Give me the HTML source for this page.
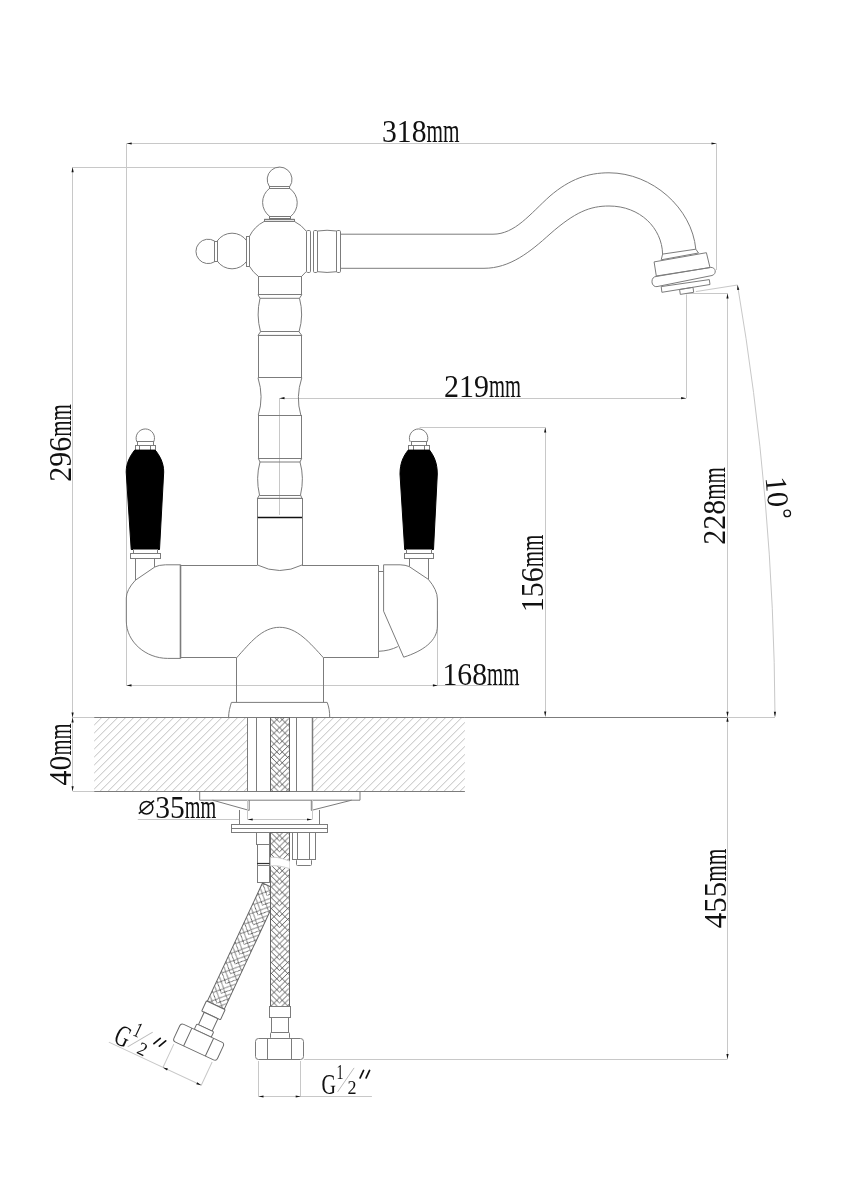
<!DOCTYPE html>
<html><head><meta charset="utf-8"><style>
html,body{margin:0;padding:0;background:#fff;}
svg{display:block;will-change:transform;}
text{stroke:none;}
</style></head><body>
<svg width="849" height="1200" viewBox="0 0 849 1200">
<rect width="849" height="1200" fill="#fff"/>
<line x1="126.7" y1="143.5" x2="716.5" y2="143.5" stroke="#c8c8c8" stroke-width="1.0"/><path d="M126.70,143.50 L131.70,142.40 L131.70,144.60 Z" fill="#111"/><path d="M716.50,143.50 L711.50,144.60 L711.50,142.40 Z" fill="#111"/><line x1="126.5" y1="143.5" x2="126.5" y2="685.5" stroke="#c8c8c8" stroke-width="1.0"/><line x1="716.5" y1="143.5" x2="716.5" y2="270" stroke="#c8c8c8" stroke-width="1.0"/><line x1="72.6" y1="167.5" x2="279.7" y2="167.5" stroke="#c8c8c8" stroke-width="1.0"/><line x1="72.5" y1="167.2" x2="72.5" y2="791.3" stroke="#c8c8c8" stroke-width="1.0"/><path d="M72.60,167.20 L73.70,172.20 L71.50,172.20 Z" fill="#111"/><path d="M72.60,717.40 L71.50,712.40 L73.70,712.40 Z" fill="#111"/><path d="M72.60,717.40 L73.70,722.40 L71.50,722.40 Z" fill="#111"/><path d="M72.60,791.30 L71.50,786.30 L73.70,786.30 Z" fill="#111"/><line x1="279.5" y1="398.5" x2="686.1" y2="398.5" stroke="#c8c8c8" stroke-width="1.0"/><line x1="279.5" y1="398.2" x2="279.5" y2="515" stroke="#c8c8c8" stroke-width="1.0"/><line x1="686.5" y1="294.4" x2="686.5" y2="398.2" stroke="#c8c8c8" stroke-width="1.0"/><path d="M279.50,398.20 L284.50,397.10 L284.50,399.30 Z" fill="#111"/><path d="M686.10,398.20 L681.10,399.30 L681.10,397.10 Z" fill="#111"/><line x1="419.6" y1="427.5" x2="545.2" y2="427.5" stroke="#c8c8c8" stroke-width="1.0"/><line x1="545.5" y1="427.4" x2="545.5" y2="716.6" stroke="#c8c8c8" stroke-width="1.0"/><path d="M545.20,427.40 L546.30,432.40 L544.10,432.40 Z" fill="#111"/><path d="M545.20,716.60 L544.10,711.60 L546.30,711.60 Z" fill="#111"/><line x1="126.5" y1="685.5" x2="519" y2="685.5" stroke="#c8c8c8" stroke-width="1.0"/><line x1="437.5" y1="611" x2="437.5" y2="685.4" stroke="#c8c8c8" stroke-width="1.0"/><path d="M126.50,685.40 L131.50,684.30 L131.50,686.50 Z" fill="#111"/><path d="M437.90,685.40 L432.90,686.50 L432.90,684.30 Z" fill="#111"/><line x1="686.6" y1="293.5" x2="727.5" y2="293.5" stroke="#c8c8c8" stroke-width="1.0"/><line x1="727.5" y1="293.4" x2="727.5" y2="1059" stroke="#c8c8c8" stroke-width="1.0"/><path d="M727.50,293.40 L728.60,298.40 L726.40,298.40 Z" fill="#111"/><path d="M727.50,716.80 L726.40,711.80 L728.60,711.80 Z" fill="#111"/><path d="M727.50,716.80 L728.60,721.80 L726.40,721.80 Z" fill="#111"/><path d="M727.50,1059.00 L726.40,1054.00 L728.60,1054.00 Z" fill="#111"/><line x1="695.8" y1="291.6" x2="737.5" y2="285.0" stroke="#c8c8c8" stroke-width="1.0"/><path d="M737.5,285 A2642,2642 0 0 1 775,716.8" stroke="#c8c8c8" stroke-width="1.0" fill="none" /><path d="M737.50,285.00 L739.33,289.78 L737.15,290.11 Z" fill="#111"/><path d="M775.00,716.80 L773.80,711.82 L776.00,711.78 Z" fill="#111"/><line x1="464.9" y1="717.5" x2="727.5" y2="717.5" stroke="#7c7c7c" stroke-width="1.0"/><line x1="727.5" y1="717.5" x2="775" y2="717.5" stroke="#c8c8c8" stroke-width="1.0"/><line x1="303.9" y1="1059.5" x2="727.5" y2="1059.5" stroke="#c8c8c8" stroke-width="1.0"/><path d="M269.4,186.5 A12.4,12.4 0 1 1 289.8,186.5" stroke="#7c7c7c" stroke-width="1.0" fill="none" /><rect x="269.5" y="186.5" width="20.0" height="2.0" rx="0" stroke="#7c7c7c" stroke-width="1.0" fill="none"/><path d="M269.4,188.5 A17.5,17.5 0 0 0 269.8,216.5" stroke="#7c7c7c" stroke-width="1.0" fill="none" /><path d="M289.8,188.5 A17.5,17.5 0 0 1 290.6,216.5" stroke="#7c7c7c" stroke-width="1.0" fill="none" /><rect x="269.5" y="216.5" width="21.0" height="2.0" rx="0" stroke="#777" stroke-width="1.0" fill="none"/><rect x="264.5" y="219.5" width="30.0" height="2.0" rx="0" stroke="#7c7c7c" stroke-width="1.0" fill="none"/><line x1="264.1" y1="219.5" x2="294.5" y2="219.5" stroke="#7c7c7c" stroke-width="1.4"/><path d="M264.1,221.5 A33,33 0 0 0 249.4,236.5" stroke="#7c7c7c" stroke-width="1.0" fill="none" /><path d="M294.5,221.5 A33,33 0 0 1 306.3,231.2" stroke="#7c7c7c" stroke-width="1.0" fill="none" /><path d="M249.4,266.2 A33,33 0 0 0 258.4,276.4" stroke="#7c7c7c" stroke-width="1.0" fill="none" /><line x1="306.3" y1="271.5" x2="301.6" y2="276.4" stroke="#7c7c7c" stroke-width="1.0"/><line x1="258.0" y1="276.5" x2="301.8" y2="276.5" stroke="#7c7c7c" stroke-width="1.2"/><rect x="246.5" y="236.5" width="3.0" height="30.0" rx="0" stroke="#7c7c7c" stroke-width="1.0" fill="none"/><path d="M246.9,241.0 A18,18 0 0 0 217.2,241.0 M217.2,261.0 A18,18 0 0 0 246.9,261.0" stroke="#7c7c7c" stroke-width="1.0" fill="none" /><rect x="214.5" y="241.5" width="3.0" height="20.0" rx="0" stroke="#7c7c7c" stroke-width="1.0" fill="none"/><path d="M214.7,241.1 A12.2,12.2 0 1 0 214.7,261.7" stroke="#7c7c7c" stroke-width="1.0" fill="none" /><rect x="306.5" y="230.5" width="4.0" height="42.0" rx="1.2" stroke="#7c7c7c" stroke-width="1.0" fill="none"/><rect x="313.5" y="230.5" width="4.0" height="42.0" rx="1.2" stroke="#7c7c7c" stroke-width="1.0" fill="none"/><path d="M317.6,231.0 Q327,229.5 336.6,231.0 M317.6,271.7 Q327,273.2 336.6,271.7" stroke="#7c7c7c" stroke-width="1.0" fill="none" /><line x1="317.5" y1="231" x2="317.5" y2="271.7" stroke="#7c7c7c" stroke-width="1.0"/><line x1="336.5" y1="231" x2="336.5" y2="271.7" stroke="#7c7c7c" stroke-width="1.0"/><rect x="336.5" y="230.5" width="4.0" height="42.0" rx="1.2" stroke="#7c7c7c" stroke-width="1.0" fill="none"/><path d="M340.2,234.2 L493,234.2 C515,234.2 530,214 550,196 C570,179 588,172.8 609,172.8 C652,172.8 692,208 695.8,249.2" stroke="#7c7c7c" stroke-width="1.0" fill="none" /><path d="M340.2,268.3 L484,268.3 C510,268.3 530,252 550,234 C575,212 590,206 609,206 C640,206 662,228 662.6,254.1" stroke="#7c7c7c" stroke-width="1.0" fill="none" /><path d="M662.6,254.1 L695.8,249.2 L698.5,253 L661.2,259.8 Z" stroke="#7c7c7c" stroke-width="1.0" fill="none" /><path d="M654.1,261.9 L706.4,252.7 L710,267.6 L656.3,276 Z" stroke="#7c7c7c" stroke-width="1.0" fill="none" /><path d="M656,276.5 L710.5,267.4 C716,267 717,274 712,275.5 L657,286.6 C651,287.5 650,277 656,276.5 Z" stroke="#7c7c7c" stroke-width="1.0" fill="none" /><path d="M661.2,286.6 L709.3,279.6 L710,284.5 L661.9,292.3 Z" stroke="#7c7c7c" stroke-width="1.0" fill="none" /><path d="M679.6,289.5 L693,287.4 L693.7,292.3 L680.3,294.4 Z" stroke="#7c7c7c" stroke-width="1.0" fill="none" /><rect x="258.5" y="276.5" width="43.0" height="18.0" rx="0" stroke="#7c7c7c" stroke-width="1.0" fill="none"/><path d="M258,294.7 L260,298.3 L299.5,298.3 L301.8,294.7" stroke="#7c7c7c" stroke-width="1.0" fill="none" /><path d="M260,298.3 Q256,315 260.5,331.8 M299.5,298.3 Q304,315 299,331.8" stroke="#7c7c7c" stroke-width="1.0" fill="none" /><line x1="260.5" y1="331.5" x2="299" y2="331.5" stroke="#7c7c7c" stroke-width="1.0"/><path d="M260.5,331.8 L258,335.4 L301.8,335.4 L299,331.8" stroke="#7c7c7c" stroke-width="1.0" fill="none" /><rect x="258.5" y="335.5" width="43.0" height="42.0" rx="0" stroke="#7c7c7c" stroke-width="1.0" fill="none"/><path d="M258,377.8 Q264,397 258.3,415 M301.8,377.8 Q295.5,397 300.8,415" stroke="#7c7c7c" stroke-width="1.0" fill="none" /><rect x="258.5" y="415.5" width="43.0" height="43.0" rx="0" stroke="#7c7c7c" stroke-width="1.0" fill="none"/><path d="M258.3,458.3 L260,462 L300,462 L301.7,458.3" stroke="#7c7c7c" stroke-width="1.0" fill="none" /><path d="M260,462 Q255.5,478 259.5,495 M300,462 Q304.5,478 300.5,495" stroke="#7c7c7c" stroke-width="1.0" fill="none" /><line x1="259.5" y1="495.5" x2="300.5" y2="495.5" stroke="#7c7c7c" stroke-width="1.0"/><path d="M259.5,495 L257.5,498.3 L302,498.3 L300.5,495" stroke="#7c7c7c" stroke-width="1.0" fill="none" /><rect x="257.5" y="498.5" width="45.0" height="19.0" rx="0" stroke="#7c7c7c" stroke-width="1.0" fill="none"/><line x1="257.5" y1="517.5" x2="302" y2="517.5" stroke="#111" stroke-width="1.6"/><line x1="257.5" y1="517.5" x2="257.5" y2="565" stroke="#7c7c7c" stroke-width="1.0"/><line x1="302.5" y1="517.5" x2="302.5" y2="565" stroke="#7c7c7c" stroke-width="1.0"/><path d="M257.5,565 Q279.7,576 302,565" stroke="#7c7c7c" stroke-width="1.0" fill="none" /><path d="M136.9,441.9 A9.2,9.2 0 1 1 153.7,441.9" stroke="#7c7c7c" stroke-width="1.0" fill="none" /><rect x="137.5" y="441.5" width="16.0" height="4.0" rx="0" stroke="#7c7c7c" stroke-width="1.0" fill="none"/><rect x="135.5" y="445.5" width="20.0" height="5.0" rx="0" stroke="#7c7c7c" stroke-width="1.0" fill="none"/><line x1="139.5" y1="445.4" x2="139.5" y2="450.1" stroke="#7c7c7c" stroke-width="1.0"/><line x1="150.5" y1="445.4" x2="150.5" y2="450.1" stroke="#7c7c7c" stroke-width="1.0"/><path d="M134.7,450.1 L155.2,450.1 C160,456 163.7,463 163.7,472 L159.5,549.5 L131.2,549.5 L126.2,472 C126.2,463 130,456 134.7,450.1 Z" stroke="#000" stroke-width="1.0" fill="#000" /><rect x="133.5" y="549.5" width="24.0" height="4.0" rx="0" stroke="#7c7c7c" stroke-width="1.0" fill="none"/><rect x="130.5" y="553.5" width="30.0" height="5.0" rx="0" stroke="#7c7c7c" stroke-width="1.0" fill="none"/><line x1="135.5" y1="558.4" x2="135.5" y2="580.2" stroke="#7c7c7c" stroke-width="1.0"/><line x1="154.5" y1="558.4" x2="154.5" y2="567" stroke="#7c7c7c" stroke-width="1.0"/><path d="M410.2,441.9 A9.2,9.2 0 1 1 427.0,441.9" stroke="#7c7c7c" stroke-width="1.0" fill="none" /><rect x="411.5" y="441.5" width="15.0" height="4.0" rx="0" stroke="#7c7c7c" stroke-width="1.0" fill="none"/><rect x="408.5" y="445.5" width="21.0" height="5.0" rx="0" stroke="#7c7c7c" stroke-width="1.0" fill="none"/><line x1="413.5" y1="445.4" x2="413.5" y2="450.1" stroke="#7c7c7c" stroke-width="1.0"/><line x1="424.5" y1="445.4" x2="424.5" y2="450.1" stroke="#7c7c7c" stroke-width="1.0"/><path d="M408.2,450.1 L429.5,450.1 C434,456 437.3,463 437.3,474 L433.5,549.5 L404.7,549.5 L400,474 C400,463 403.5,456 408.2,450.1 Z" stroke="#000" stroke-width="1.0" fill="#000" /><rect x="406.5" y="549.5" width="25.0" height="4.0" rx="0" stroke="#7c7c7c" stroke-width="1.0" fill="none"/><rect x="404.5" y="553.5" width="29.0" height="5.0" rx="0" stroke="#7c7c7c" stroke-width="1.0" fill="none"/><line x1="409.5" y1="558.4" x2="409.5" y2="566.5" stroke="#7c7c7c" stroke-width="1.0"/><line x1="428.5" y1="558.4" x2="428.5" y2="579.4" stroke="#7c7c7c" stroke-width="1.0"/><path d="M180.7,564.8 L165.4,564.8 Q158.5,565 154.8,567 L135.4,580.2 Q126.3,590 126.3,598 L126.3,621 C126.3,642 146,658.4 167.7,658.4 L180.7,658.4" stroke="#7c7c7c" stroke-width="1.0" fill="none" /><line x1="180.5" y1="564.8" x2="180.5" y2="658.4" stroke="#7c7c7c" stroke-width="1.6"/><line x1="180.7" y1="565.5" x2="257.5" y2="565.5" stroke="#7c7c7c" stroke-width="1.0"/><line x1="302" y1="565.5" x2="378.5" y2="565.5" stroke="#7c7c7c" stroke-width="1.0"/><line x1="378.5" y1="565.2" x2="378.5" y2="657.9" stroke="#7c7c7c" stroke-width="1.0"/><line x1="180.7" y1="657.5" x2="236.5" y2="657.5" stroke="#7c7c7c" stroke-width="1.0"/><line x1="323.6" y1="657.5" x2="378.5" y2="657.5" stroke="#7c7c7c" stroke-width="1.0"/><path d="M236.5,657.9 C250,643 262,627.3 279.6,627.3 C297,627.3 310,643 323.6,657.9" stroke="#7c7c7c" stroke-width="1.0" fill="none" /><line x1="378.5" y1="571.5" x2="383.6" y2="571.5" stroke="#7c7c7c" stroke-width="1.0"/><path d="M383.6,564.8 L383.6,611.2 L403.7,657.2" stroke="#7c7c7c" stroke-width="1.0" fill="none" /><path d="M383.6,564.8 L400.1,564.8 Q405.5,565 409.1,566.5 L428.4,579.4 Q437.4,590 437.4,599 L437.4,626 C437.4,641 423,651 403.7,657.2" stroke="#7c7c7c" stroke-width="1.0" fill="none" /><path d="M378.5,651.3 C386,651 392,649.5 397.8,646.6" stroke="#7c7c7c" stroke-width="1.0" fill="none" /><line x1="236.5" y1="657.9" x2="236.5" y2="702.4" stroke="#7c7c7c" stroke-width="1.0"/><line x1="323.5" y1="657.9" x2="323.5" y2="702.4" stroke="#7c7c7c" stroke-width="1.0"/><path d="M231.4,702.4 L327.2,702.4 C329,707 329.7,712 329.7,717.2 M231.4,702.4 C230,707 228.6,712 228.6,717.2" stroke="#7c7c7c" stroke-width="1.0" fill="none" /><defs><clipPath id="hl"><rect x="94.2" y="717.2" width="152.9" height="74.1"/></clipPath><clipPath id="hr"><rect x="312.4" y="717.2" width="152.5" height="74.1"/></clipPath><pattern id="braid" patternUnits="userSpaceOnUse" x="270" y="0" width="19" height="10.8"><path d="M0,-27.00 L9.50,-17.50 M19.00,-27.00 L9.50,-17.50 M0,-21.60 L9.50,-12.10 M19.00,-21.60 L9.50,-12.10 M0,-16.20 L9.50,-6.70 M19.00,-16.20 L9.50,-6.70 M0,-10.80 L9.50,-1.30 M19.00,-10.80 L9.50,-1.30 M0,-5.40 L9.50,4.10 M19.00,-5.40 L9.50,4.10 M0,0.00 L9.50,9.50 M19.00,0.00 L9.50,9.50 M0,5.40 L9.50,14.90 M19.00,5.40 L9.50,14.90 M0,10.80 L9.50,20.30 M19.00,10.80 L9.50,20.30 M0,2.70 L9.50,-6.80 M19.00,2.70 L9.50,-6.80 M0,13.50 L9.50,4.00 M19.00,13.50 L9.50,4.00 M0,24.30 L9.50,14.80 M19.00,24.30 L9.50,14.80 M0,35.10 L9.50,25.60 M19.00,35.10 L9.50,25.60" stroke="#505050" stroke-width="0.9" fill="none"/></pattern><pattern id="braidA" patternUnits="userSpaceOnUse" x="0" y="0" width="18.7" height="10.8"><path d="M0,-27.00 L9.35,-17.65 M18.70,-27.00 L9.35,-17.65 M0,-21.60 L9.35,-12.25 M18.70,-21.60 L9.35,-12.25 M0,-16.20 L9.35,-6.85 M18.70,-16.20 L9.35,-6.85 M0,-10.80 L9.35,-1.45 M18.70,-10.80 L9.35,-1.45 M0,-5.40 L9.35,3.95 M18.70,-5.40 L9.35,3.95 M0,0.00 L9.35,9.35 M18.70,0.00 L9.35,9.35 M0,5.40 L9.35,14.75 M18.70,5.40 L9.35,14.75 M0,10.80 L9.35,20.15 M18.70,10.80 L9.35,20.15 M0,2.70 L9.35,-6.65 M18.70,2.70 L9.35,-6.65 M0,13.50 L9.35,4.15 M18.70,13.50 L9.35,4.15 M0,24.30 L9.35,14.95 M18.70,24.30 L9.35,14.95 M0,35.10 L9.35,25.75 M18.70,35.10 L9.35,25.75" stroke="#505050" stroke-width="0.9" fill="none"/></pattern></defs><g clip-path="url(#hl)"><path d="M-100.0,791.3 L-25.9,717.2 M-92.0,791.3 L-17.9,717.2 M-84.0,791.3 L-9.9,717.2 M-76.0,791.3 L-1.9,717.2 M-68.0,791.3 L6.1,717.2 M-60.0,791.3 L14.1,717.2 M-52.0,791.3 L22.1,717.2 M-44.0,791.3 L30.1,717.2 M-36.0,791.3 L38.1,717.2 M-28.0,791.3 L46.1,717.2 M-20.0,791.3 L54.1,717.2 M-12.0,791.3 L62.1,717.2 M-4.0,791.3 L70.1,717.2 M4.0,791.3 L78.1,717.2 M12.0,791.3 L86.1,717.2 M20.0,791.3 L94.1,717.2 M28.0,791.3 L102.1,717.2 M36.0,791.3 L110.1,717.2 M44.0,791.3 L118.1,717.2 M52.0,791.3 L126.1,717.2 M60.0,791.3 L134.1,717.2 M68.0,791.3 L142.1,717.2 M76.0,791.3 L150.1,717.2 M84.0,791.3 L158.1,717.2 M92.0,791.3 L166.1,717.2 M100.0,791.3 L174.1,717.2 M108.0,791.3 L182.1,717.2 M116.0,791.3 L190.1,717.2 M124.0,791.3 L198.1,717.2 M132.0,791.3 L206.1,717.2 M140.0,791.3 L214.1,717.2 M148.0,791.3 L222.1,717.2 M156.0,791.3 L230.1,717.2 M164.0,791.3 L238.1,717.2 M172.0,791.3 L246.1,717.2 M180.0,791.3 L254.1,717.2 M188.0,791.3 L262.1,717.2 M196.0,791.3 L270.1,717.2 M204.0,791.3 L278.1,717.2 M212.0,791.3 L286.1,717.2 M220.0,791.3 L294.1,717.2 M228.0,791.3 L302.1,717.2 M236.0,791.3 L310.1,717.2 M244.0,791.3 L318.1,717.2 M252.0,791.3 L326.1,717.2 M260.0,791.3 L334.1,717.2 M268.0,791.3 L342.1,717.2 M276.0,791.3 L350.1,717.2 M284.0,791.3 L358.1,717.2 M292.0,791.3 L366.1,717.2 M300.0,791.3 L374.1,717.2 M308.0,791.3 L382.1,717.2 M316.0,791.3 L390.1,717.2 M324.0,791.3 L398.1,717.2 M332.0,791.3 L406.1,717.2 M340.0,791.3 L414.1,717.2 M348.0,791.3 L422.1,717.2 M356.0,791.3 L430.1,717.2 M364.0,791.3 L438.1,717.2 M372.0,791.3 L446.1,717.2 M380.0,791.3 L454.1,717.2 M388.0,791.3 L462.1,717.2 M396.0,791.3 L470.1,717.2 M404.0,791.3 L478.1,717.2 M412.0,791.3 L486.1,717.2 M420.0,791.3 L494.1,717.2 M428.0,791.3 L502.1,717.2 M436.0,791.3 L510.1,717.2 M444.0,791.3 L518.1,717.2 M452.0,791.3 L526.1,717.2 M460.0,791.3 L534.1,717.2 M468.0,791.3 L542.1,717.2 M476.0,791.3 L550.1,717.2 M484.0,791.3 L558.1,717.2 M492.0,791.3 L566.1,717.2 M500.0,791.3 L574.1,717.2 M508.0,791.3 L582.1,717.2 M516.0,791.3 L590.1,717.2 M524.0,791.3 L598.1,717.2 M532.0,791.3 L606.1,717.2 M540.0,791.3 L614.1,717.2 M548.0,791.3 L622.1,717.2 M556.0,791.3 L630.1,717.2 M564.0,791.3 L638.1,717.2 M572.0,791.3 L646.1,717.2 M580.0,791.3 L654.1,717.2 M588.0,791.3 L662.1,717.2 M596.0,791.3 L670.1,717.2 M604.0,791.3 L678.1,717.2 M612.0,791.3 L686.1,717.2 M620.0,791.3 L694.1,717.2 M628.0,791.3 L702.1,717.2 M636.0,791.3 L710.1,717.2 M644.0,791.3 L718.1,717.2 M652.0,791.3 L726.1,717.2 M660.0,791.3 L734.1,717.2 M668.0,791.3 L742.1,717.2 M676.0,791.3 L750.1,717.2 M684.0,791.3 L758.1,717.2 M692.0,791.3 L766.1,717.2" stroke="#b8b8b8" stroke-width="0.9" fill="none"/></g><g clip-path="url(#hr)"><path d="M-100.0,791.3 L-25.9,717.2 M-92.0,791.3 L-17.9,717.2 M-84.0,791.3 L-9.9,717.2 M-76.0,791.3 L-1.9,717.2 M-68.0,791.3 L6.1,717.2 M-60.0,791.3 L14.1,717.2 M-52.0,791.3 L22.1,717.2 M-44.0,791.3 L30.1,717.2 M-36.0,791.3 L38.1,717.2 M-28.0,791.3 L46.1,717.2 M-20.0,791.3 L54.1,717.2 M-12.0,791.3 L62.1,717.2 M-4.0,791.3 L70.1,717.2 M4.0,791.3 L78.1,717.2 M12.0,791.3 L86.1,717.2 M20.0,791.3 L94.1,717.2 M28.0,791.3 L102.1,717.2 M36.0,791.3 L110.1,717.2 M44.0,791.3 L118.1,717.2 M52.0,791.3 L126.1,717.2 M60.0,791.3 L134.1,717.2 M68.0,791.3 L142.1,717.2 M76.0,791.3 L150.1,717.2 M84.0,791.3 L158.1,717.2 M92.0,791.3 L166.1,717.2 M100.0,791.3 L174.1,717.2 M108.0,791.3 L182.1,717.2 M116.0,791.3 L190.1,717.2 M124.0,791.3 L198.1,717.2 M132.0,791.3 L206.1,717.2 M140.0,791.3 L214.1,717.2 M148.0,791.3 L222.1,717.2 M156.0,791.3 L230.1,717.2 M164.0,791.3 L238.1,717.2 M172.0,791.3 L246.1,717.2 M180.0,791.3 L254.1,717.2 M188.0,791.3 L262.1,717.2 M196.0,791.3 L270.1,717.2 M204.0,791.3 L278.1,717.2 M212.0,791.3 L286.1,717.2 M220.0,791.3 L294.1,717.2 M228.0,791.3 L302.1,717.2 M236.0,791.3 L310.1,717.2 M244.0,791.3 L318.1,717.2 M252.0,791.3 L326.1,717.2 M260.0,791.3 L334.1,717.2 M268.0,791.3 L342.1,717.2 M276.0,791.3 L350.1,717.2 M284.0,791.3 L358.1,717.2 M292.0,791.3 L366.1,717.2 M300.0,791.3 L374.1,717.2 M308.0,791.3 L382.1,717.2 M316.0,791.3 L390.1,717.2 M324.0,791.3 L398.1,717.2 M332.0,791.3 L406.1,717.2 M340.0,791.3 L414.1,717.2 M348.0,791.3 L422.1,717.2 M356.0,791.3 L430.1,717.2 M364.0,791.3 L438.1,717.2 M372.0,791.3 L446.1,717.2 M380.0,791.3 L454.1,717.2 M388.0,791.3 L462.1,717.2 M396.0,791.3 L470.1,717.2 M404.0,791.3 L478.1,717.2 M412.0,791.3 L486.1,717.2 M420.0,791.3 L494.1,717.2 M428.0,791.3 L502.1,717.2 M436.0,791.3 L510.1,717.2 M444.0,791.3 L518.1,717.2 M452.0,791.3 L526.1,717.2 M460.0,791.3 L534.1,717.2 M468.0,791.3 L542.1,717.2 M476.0,791.3 L550.1,717.2 M484.0,791.3 L558.1,717.2 M492.0,791.3 L566.1,717.2 M500.0,791.3 L574.1,717.2 M508.0,791.3 L582.1,717.2 M516.0,791.3 L590.1,717.2 M524.0,791.3 L598.1,717.2 M532.0,791.3 L606.1,717.2 M540.0,791.3 L614.1,717.2 M548.0,791.3 L622.1,717.2 M556.0,791.3 L630.1,717.2 M564.0,791.3 L638.1,717.2 M572.0,791.3 L646.1,717.2 M580.0,791.3 L654.1,717.2 M588.0,791.3 L662.1,717.2 M596.0,791.3 L670.1,717.2 M604.0,791.3 L678.1,717.2 M612.0,791.3 L686.1,717.2 M620.0,791.3 L694.1,717.2 M628.0,791.3 L702.1,717.2 M636.0,791.3 L710.1,717.2 M644.0,791.3 L718.1,717.2 M652.0,791.3 L726.1,717.2 M660.0,791.3 L734.1,717.2 M668.0,791.3 L742.1,717.2 M676.0,791.3 L750.1,717.2 M684.0,791.3 L758.1,717.2 M692.0,791.3 L766.1,717.2" stroke="#b8b8b8" stroke-width="0.9" fill="none"/></g><line x1="73" y1="717.5" x2="94.2" y2="717.5" stroke="#c8c8c8" stroke-width="1.0"/><line x1="94.2" y1="717.5" x2="464.9" y2="717.5" stroke="#7c7c7c" stroke-width="1.0"/><line x1="73" y1="791.5" x2="94.2" y2="791.5" stroke="#c8c8c8" stroke-width="1.0"/><line x1="94.2" y1="791.5" x2="464.9" y2="791.5" stroke="#7c7c7c" stroke-width="1.0"/><line x1="247.5" y1="717.2" x2="247.5" y2="791.3" stroke="#7c7c7c" stroke-width="1.0"/><line x1="256.5" y1="717.2" x2="256.5" y2="791.3" stroke="#7c7c7c" stroke-width="1.0"/><line x1="296.5" y1="717.2" x2="296.5" y2="791.3" stroke="#7c7c7c" stroke-width="1.0"/><line x1="312.5" y1="717.2" x2="312.5" y2="791.3" stroke="#7c7c7c" stroke-width="1.5"/><rect x="270.5" y="717.5" width="19.0" height="74.0" rx="0" stroke="#666" stroke-width="1.0" fill="url(#braid)"/><path d="M199.7,791.3 L199.7,800.2 L360,800.2 L360,791.3" stroke="#7c7c7c" stroke-width="1.0" fill="none" /><path d="M212.7,800.2 L249.2,810.4 L249.2,800.2 M351.6,800.2 L311.3,810.4 L311.3,800.2" stroke="#7c7c7c" stroke-width="1.0" fill="none" /><line x1="239.5" y1="810" x2="239.5" y2="824.1" stroke="#7c7c7c" stroke-width="1.0"/><line x1="319.5" y1="810" x2="319.5" y2="824.1" stroke="#7c7c7c" stroke-width="1.0"/><line x1="137.8" y1="819.5" x2="239.2" y2="819.5" stroke="#c8c8c8" stroke-width="1.0"/><line x1="247.7" y1="819.5" x2="312.0" y2="819.5" stroke="#c8c8c8" stroke-width="1.0"/><line x1="247.5" y1="800.2" x2="247.5" y2="819.5" stroke="#c8c8c8" stroke-width="1.0"/><line x1="312.5" y1="800.2" x2="312.5" y2="819.5" stroke="#c8c8c8" stroke-width="1.0"/><path d="M247.70,819.50 L252.70,818.40 L252.70,820.60 Z" fill="#111"/><path d="M312.00,819.50 L307.00,820.60 L307.00,818.40 Z" fill="#111"/><rect x="231.5" y="824.5" width="96.0" height="8.0" rx="0" stroke="#7c7c7c" stroke-width="1.0" fill="none"/><line x1="231.4" y1="828.5" x2="327.8" y2="828.5" stroke="#7c7c7c" stroke-width="1.0"/><rect x="256.5" y="832.5" width="13.0" height="12.0" rx="0" stroke="#7c7c7c" stroke-width="1.0" fill="none"/><rect x="257.5" y="844.5" width="12.0" height="19.0" rx="0" stroke="#7c7c7c" stroke-width="1.0" fill="none"/><rect x="257.5" y="863.5" width="12.0" height="2.0" rx="0" stroke="#7c7c7c" stroke-width="1.0" fill="none"/><line x1="257" y1="863.5" x2="269.6" y2="863.5" stroke="#333" stroke-width="1.2"/><rect x="257.5" y="865.5" width="12.0" height="17.0" rx="0" stroke="#7c7c7c" stroke-width="1.0" fill="none"/><g transform="translate(262.5 883) rotate(25)"><rect x="0" y="0" width="18.7" height="130.5" stroke="#666" stroke-width="1" fill="url(#braidA)"/><rect x="-1" y="130.5" width="20.7" height="11.3" stroke="#6a6a6a" stroke-width="1" fill="#fff" rx="1"/><rect x="1.8" y="141.8" width="15.1" height="13.7" stroke="#6a6a6a" stroke-width="1" fill="#fff"/><rect x="0" y="155.5" width="18.7" height="5.9" stroke="#6a6a6a" stroke-width="1" fill="#fff" rx="1"/><rect x="-14.65" y="161.4" width="48" height="19.6" stroke="#6a6a6a" stroke-width="1" fill="#fff" rx="3"/><path d="M-2.65,161.4 L-2.65,181 M21.35,161.4 L21.35,181" stroke="#6a6a6a" stroke-width="1"/><path d="M-12.3,183.5 L-12.3,209.5 M30,183.5 L30,209.5 M-72,209.2 L30,209.2" stroke="#c8c8c8" stroke-width="1"/><path d="M-12.3,209.2 L-7.3,208.1 L-7.3,210.3 Z M30,209.2 L25,208.1 L25,210.3 Z" fill="#111"/></g><rect x="270.5" y="832.5" width="19.0" height="174.0" rx="0" stroke="none" stroke-width="1.0" fill="#fff"/><rect x="270.5" y="832.5" width="19.0" height="174.0" rx="0" stroke="#666" stroke-width="1.0" fill="url(#braid)"/><path d="M270.4,857.6 C276,856.5 283,858.5 289.8,861.2 L289.8,868.7 C283,866.5 276,865 270.4,866 Z" stroke="none" stroke-width="1.0" fill="#fff" /><path d="M270.4,857.6 C276,856.5 283,858.5 289.8,861.2 M270.4,866 C276,865 283,866.5 289.8,868.7" stroke="#cfcfcf" stroke-width="1.0" fill="none" /><rect x="292.5" y="832.5" width="23.0" height="27.0" rx="0" stroke="#7c7c7c" stroke-width="1.0" fill="none"/><line x1="297.5" y1="832.6" x2="297.5" y2="859.5" stroke="#7c7c7c" stroke-width="1.0"/><line x1="309.5" y1="832.6" x2="309.5" y2="859.5" stroke="#7c7c7c" stroke-width="1.0"/><rect x="296.5" y="859.5" width="15.0" height="6.0" rx="1" stroke="#7c7c7c" stroke-width="1.0" fill="none"/><rect x="269.5" y="1006.5" width="21.0" height="11.0" rx="0" stroke="#7c7c7c" stroke-width="1.0" fill="none"/><rect x="271.5" y="1017.5" width="17.0" height="15.0" rx="0" stroke="#7c7c7c" stroke-width="1.0" fill="none"/><rect x="270.5" y="1032.5" width="19.0" height="6.0" rx="1" stroke="#7c7c7c" stroke-width="1.0" fill="none"/><rect x="255.5" y="1038.5" width="48.0" height="21.0" rx="3" stroke="#7c7c7c" stroke-width="1.0" fill="none"/><line x1="267.5" y1="1038.5" x2="267.5" y2="1059" stroke="#7c7c7c" stroke-width="1.0"/><line x1="291.5" y1="1038.5" x2="291.5" y2="1059" stroke="#7c7c7c" stroke-width="1.0"/><line x1="258.5" y1="1061" x2="258.5" y2="1096.5" stroke="#c8c8c8" stroke-width="1.0"/><line x1="300.5" y1="1061" x2="300.5" y2="1096.5" stroke="#c8c8c8" stroke-width="1.0"/><line x1="258.5" y1="1096.5" x2="371.9" y2="1096.5" stroke="#c8c8c8" stroke-width="1.0"/><path d="M258.50,1096.50 L263.50,1095.40 L263.50,1097.60 Z" fill="#111"/><path d="M300.70,1096.50 L295.70,1097.60 L295.70,1095.40 Z" fill="#111"/><text x="382" y="141.8" font-family='"Liberation Serif", serif' font-size="31.5" fill="#111" textLength="44.5" lengthAdjust="spacingAndGlyphs">318</text><text x="426.5" y="141.8" font-family='"Liberation Serif", serif' font-size="33.1" fill="#111" textLength="33" lengthAdjust="spacingAndGlyphs">mm</text><text x="444" y="396.6" font-family='"Liberation Serif", serif' font-size="31.5" fill="#111" textLength="45" lengthAdjust="spacingAndGlyphs">219</text><text x="489" y="396.6" font-family='"Liberation Serif", serif' font-size="33.1" fill="#111" textLength="32" lengthAdjust="spacingAndGlyphs">mm</text><text x="442.5" y="684.6" font-family='"Liberation Serif", serif' font-size="31.5" fill="#111" textLength="44.5" lengthAdjust="spacingAndGlyphs">168</text><text x="487.0" y="684.6" font-family='"Liberation Serif", serif' font-size="33.1" fill="#111" textLength="32.5" lengthAdjust="spacingAndGlyphs">mm</text><circle cx="146.5" cy="807.7" r="6.3" stroke="#111" stroke-width="1.5" fill="none"/><line x1="138.8" y1="813.6" x2="154.1" y2="800.6" stroke="#111" stroke-width="1.5"/><text x="155.2" y="818.3" font-family='"Liberation Serif", serif' font-size="31.5" fill="#111" textLength="29.5" lengthAdjust="spacingAndGlyphs">35</text><text x="184.7" y="818.3" font-family='"Liberation Serif", serif' font-size="33.1" fill="#111" textLength="31.5" lengthAdjust="spacingAndGlyphs">mm</text><g transform="rotate(-90 0 0)"><text x="-481.8" y="70.8" font-family='"Liberation Serif", serif' font-size="32" fill="#111" style="stroke:none" textLength="45" lengthAdjust="spacingAndGlyphs">296</text><text x="-436.8" y="70.8" font-family='"Liberation Serif", serif' font-size="33.6" fill="#111" style="stroke:none" textLength="32.5" lengthAdjust="spacingAndGlyphs">mm</text></g><g transform="rotate(-90 0 0)"><text x="-612.2" y="543.0" font-family='"Liberation Serif", serif' font-size="32" fill="#111" style="stroke:none" textLength="45" lengthAdjust="spacingAndGlyphs">156</text><text x="-567.2" y="543.0" font-family='"Liberation Serif", serif' font-size="33.6" fill="#111" style="stroke:none" textLength="32.5" lengthAdjust="spacingAndGlyphs">mm</text></g><g transform="rotate(-90 0 0)"><text x="-544.8" y="725.3" font-family='"Liberation Serif", serif' font-size="32" fill="#111" style="stroke:none" textLength="45" lengthAdjust="spacingAndGlyphs">228</text><text x="-499.79999999999995" y="725.3" font-family='"Liberation Serif", serif' font-size="33.6" fill="#111" style="stroke:none" textLength="32.5" lengthAdjust="spacingAndGlyphs">mm</text></g><g transform="rotate(-90 0 0)"><text x="-785.6" y="70.8" font-family='"Liberation Serif", serif' font-size="32" fill="#111" style="stroke:none" textLength="30" lengthAdjust="spacingAndGlyphs">40</text><text x="-755.6" y="70.8" font-family='"Liberation Serif", serif' font-size="33.6" fill="#111" style="stroke:none" textLength="32" lengthAdjust="spacingAndGlyphs">mm</text></g><g transform="rotate(-90 0 0)"><text x="-928.2" y="725.6" font-family='"Liberation Serif", serif' font-size="32" fill="#111" style="stroke:none" textLength="46.5" lengthAdjust="spacingAndGlyphs">455</text><text x="-881.7" y="725.6" font-family='"Liberation Serif", serif' font-size="33.6" fill="#111" style="stroke:none" textLength="33" lengthAdjust="spacingAndGlyphs">mm</text></g><g transform="translate(765.6 477.5) rotate(85)"><text x="0" y="0" font-family='"Liberation Serif", serif' font-size="30.5" fill="#111">10</text><circle cx="37.6" cy="-18.4" r="3.3" stroke="#111" stroke-width="1.3" fill="none"/></g><g ><text x="321.6" y="1093.9" font-family='"Liberation Serif", serif' font-size="30" fill="#111" style="stroke:none" textLength="14.5" lengthAdjust="spacingAndGlyphs">G</text><text x="336.6" y="1079.4" font-family='"Liberation Serif", serif' font-size="21.5" fill="#111" style="stroke:none" textLength="7" lengthAdjust="spacingAndGlyphs">1</text><line x1="337.6" y1="1091.9" x2="354.1" y2="1067.9" stroke="#bbb" stroke-width="1"/><text x="347.40000000000003" y="1093.9" font-family='"Liberation Serif", serif' font-size="18.5" fill="#111" style="stroke:none" textLength="9" lengthAdjust="spacingAndGlyphs">2</text><path d="M360.1,1077.9 L363.6,1070.4 M366.1,1077.9 L369.6,1070.4" stroke="#111" stroke-width="1.7" stroke-linecap="round"/></g><g transform="translate(262.5 883) rotate(25) translate(-69 207.5)"><text x="0" y="0" font-family='"Liberation Serif", serif' font-size="30" fill="#111" style="stroke:none" textLength="14.5" lengthAdjust="spacingAndGlyphs">G</text><text x="15" y="-14.5" font-family='"Liberation Serif", serif' font-size="21.5" fill="#111" style="stroke:none" textLength="7" lengthAdjust="spacingAndGlyphs">1</text><line x1="16" y1="-2" x2="32.5" y2="-26" stroke="#bbb" stroke-width="1"/><text x="25.8" y="0" font-family='"Liberation Serif", serif' font-size="18.5" fill="#111" style="stroke:none" textLength="9" lengthAdjust="spacingAndGlyphs">2</text><path d="M38.5,-16 L42,-23.5 M44.5,-16 L48,-23.5" stroke="#111" stroke-width="1.7" stroke-linecap="round"/></g>
</svg>
</body></html>
